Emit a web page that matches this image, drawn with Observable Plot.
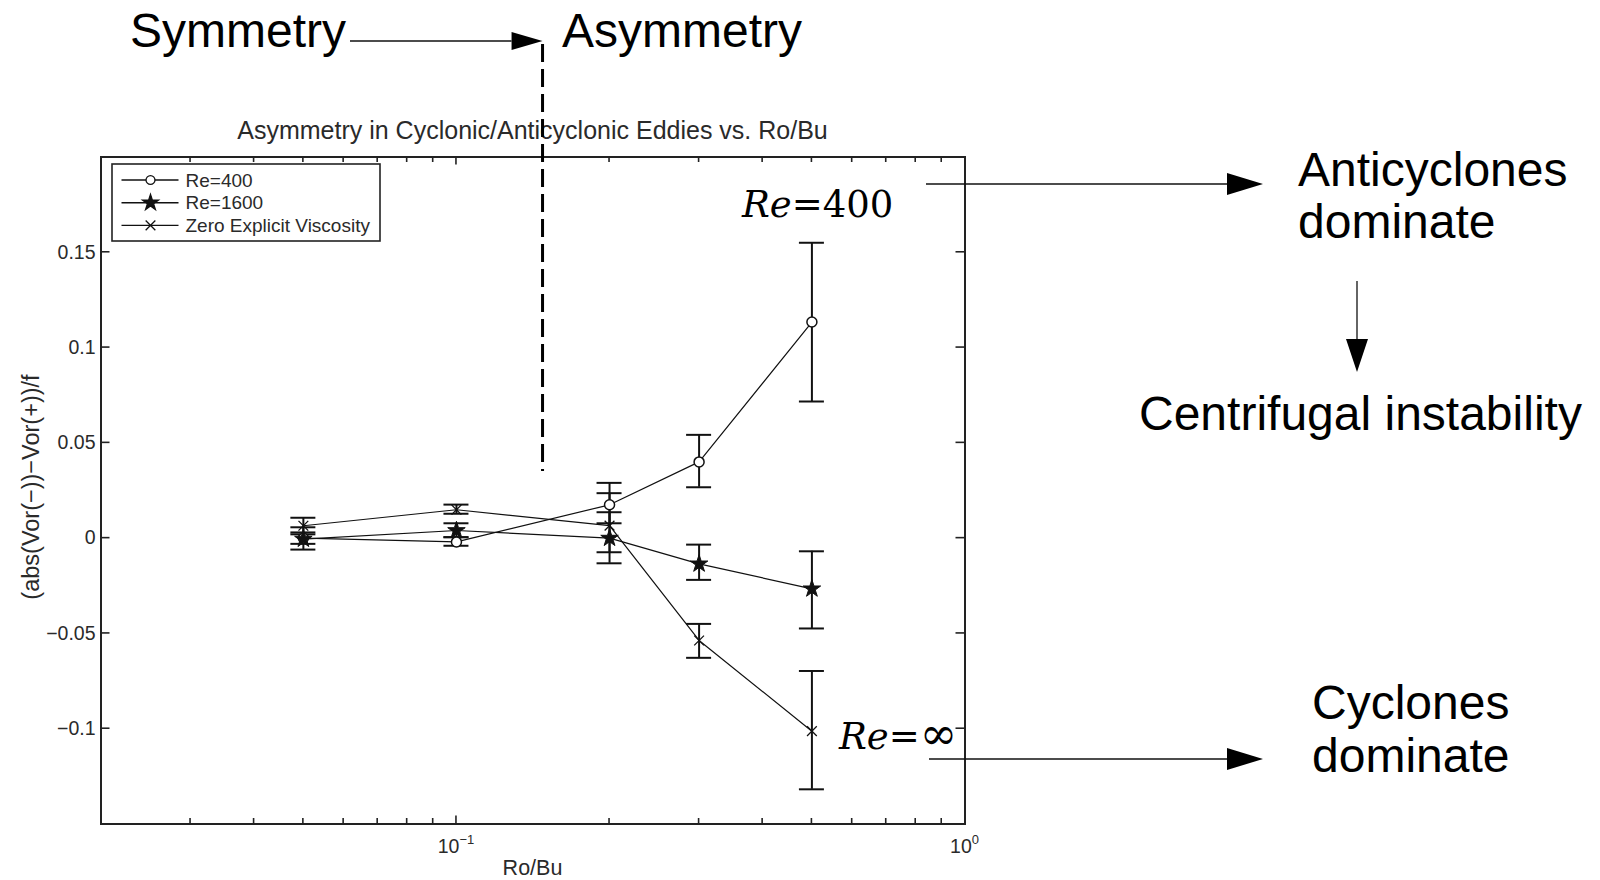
<!DOCTYPE html>
<html>
<head>
<meta charset="utf-8">
<script src="https://cdn.jsdelivr.net/npm/d3@7"></script>
<script src="https://cdn.jsdelivr.net/npm/@observablehq/plot@0.6"></script>
<style>
  html, body { margin: 0; padding: 0; background: #fff; }
  svg { display: block; }
</style>
</head>
<body>
<div id="chart"></div>
<script>
// Ro/Bu values of the runs
const roBu = [0.05, 0.1, 0.2, 0.3, 0.5];

// Series and their marker symbols
const seriesNames = ["Re=400", "Re=1600", "Zero Explicit Viscosity"];
const seriesSymbols = ["circle", "star", "times"];

// (abs(Vor(-)) - Vor(+))/f, with lower and upper error bounds
const re400   = [0.000, -0.002, 0.0175, 0.040, 0.1134];
const re400Lo = [-0.003, -0.004, 0.0078, 0.0267, 0.0717];
const re400Hi = [0.002, 0.0005, 0.029, 0.0542, 0.155];

const re1600   = [-0.0005, 0.004, 0.000, -0.0135, -0.0266];
const re1600Lo = [-0.006, 0.0005, -0.0132, -0.0219, -0.0474];
const re1600Hi = [0.0057, 0.0078, 0.0136, -0.0034, -0.0069];

const inviscid   = [0.0065, 0.0149, 0.0066, -0.0537, -0.1013];
const inviscidLo = [0.003, 0.0128, -0.0074, -0.0628, -0.1318];
const inviscidHi = [0.0107, 0.0176, 0.0236, -0.045, -0.0697];

// Axis ticks
const yTicks = [-0.1, -0.05, 0, 0.05, 0.1, 0.15];
const xMajorTicks = [0.1, 1];
const xMajorLabels = [["10", "−1"], ["10", "0"]];
const xMinorTicks = [0.03, 0.04, 0.05, 0.06, 0.07, 0.08, 0.09, 0.2, 0.3, 0.4, 0.5, 0.6, 0.7, 0.8, 0.9];

// Regime boundary between symmetric and asymmetric eddies
const regimeBoundary = 0.148;
const regimeBoundaryBottom = 0.035;

(function draw() {
const rows = [];
[[re400, re400Lo, re400Hi], [re1600, re1600Lo, re1600Hi], [inviscid, inviscidLo, inviscidHi]]
  .forEach(([v, lo, hi], s) => roBu.forEach((x, i) => rows.push({
    series: seriesNames[s], symbol: seriesSymbols[s], x, y: v[i], lo: lo[i], hi: hi[i]
  })));

const font = "'Liberation Sans', Arial, Helvetica, sans-serif";
const ink = "#111";
const capHalf = 12.5;

const plot = Plot.plot({
  width: 1600,
  height: 880,
  marginLeft: 100.5,
  marginRight: 635.5,
  marginTop: 156.5,
  marginBottom: 56.5,
  style: { fontFamily: font, background: "white", overflow: "visible", color: "#2a2a2a" },
  x: { type: "log", domain: [0.02, 1], axis: null },
  y: { domain: [-0.15, 0.2], axis: null },
  marks: [
    Plot.axisY(yTicks, {
      tickSize: 0, tickPadding: 5.5, fontSize: 19.5, label: null,
      tickFormat: d => d < 0 ? "−" + Math.abs(d) : String(d)
    }),
    Plot.line(rows, { x: "x", y: "y", z: "series", stroke: ink, strokeWidth: 1.2 }),
    Plot.ruleX(rows, { x: "x", y1: "lo", y2: "hi", stroke: ink, strokeWidth: 2 }),
    Plot.ruleY(rows, { y: "lo", x1: "x", x2: "x", insetLeft: -capHalf, insetRight: -capHalf, stroke: ink, strokeWidth: 2 }),
    Plot.ruleY(rows, { y: "hi", x1: "x", x2: "x", insetLeft: -capHalf, insetRight: -capHalf, stroke: ink, strokeWidth: 2 }),
    Plot.dot(rows.filter(d => d.symbol === "circle"), { x: "x", y: "y", symbol: "circle", r: 5, stroke: ink, strokeWidth: 1.5, fill: "white" }),
    Plot.dot(rows.filter(d => d.symbol === "star"), { x: "x", y: "y", symbol: "star", r: 5.5, fill: ink, stroke: ink, strokeWidth: 1 }),
    Plot.dot(rows.filter(d => d.symbol === "times"), { x: "x", y: "y", symbol: "times", r: 4.5, stroke: ink, strokeWidth: 1.3 }),
    Plot.frame({ stroke: "#222", strokeWidth: 2 })
  ]
});

document.getElementById("chart").appendChild(plot);

const svg = d3.select(plot);
const sx = plot.scale("x"), sy = plot.scale("y");
const X = v => sx.apply(v), Y = v => sy.apply(v);
const fLeft = X(0.02), fRight = X(1), fBottom = Y(-0.15), fTop = Y(0.2);

// Inward ticks on all four sides
const ticks = svg.append("g").attr("stroke", "#222").attr("stroke-width", 1.6);
xMinorTicks.concat(xMajorTicks.slice(0, 1)).forEach(v => {
  const len = xMajorTicks.includes(v) ? 8 : 5.5;
  ticks.append("line").attr("x1", X(v)).attr("x2", X(v)).attr("y1", fBottom).attr("y2", fBottom - len);
  ticks.append("line").attr("x1", X(v)).attr("x2", X(v)).attr("y1", fTop).attr("y2", fTop + len);
});
yTicks.forEach(v => {
  ticks.append("line").attr("x1", fLeft).attr("x2", fLeft + 9).attr("y1", Y(v)).attr("y2", Y(v));
  ticks.append("line").attr("x1", fRight).attr("x2", fRight - 9).attr("y1", Y(v)).attr("y2", Y(v));
});

// Log tick labels 10^n
xMajorTicks.forEach((v, i) => {
  const t = svg.append("text").attr("x", X(v)).attr("y", 853).attr("text-anchor", "middle")
    .attr("font-family", font).attr("font-size", 19.5).attr("fill", "#2a2a2a");
  t.append("tspan").text(xMajorLabels[i][0]);
  t.append("tspan").attr("dy", -9).attr("font-size", 13).text(xMajorLabels[i][1]);
});

// Axis labels and title
svg.append("text").attr("x", (fLeft + fRight) / 2).attr("y", 875).attr("text-anchor", "middle")
  .attr("font-family", font).attr("font-size", 21.5).attr("fill", "#2a2a2a").text("Ro/Bu");
svg.append("text").attr("transform", `translate(39,487) rotate(-90)`)
  .attr("text-anchor", "middle").attr("font-family", font).attr("font-size", 23.5).attr("fill", "#2a2a2a")
  .text("(abs(Vor(−))−Vor(+))/f");
svg.append("text").attr("x", (fLeft + fRight) / 2).attr("y", 139).attr("text-anchor", "middle")
  .attr("font-family", font).attr("font-size", 25).attr("fill", "#2a2a2a")
  .text("Asymmetry in Cyclonic/Anticyclonic Eddies vs. Ro/Bu");

// Legend
const lg = svg.append("g");
lg.append("rect").attr("x", fLeft + 11.5).attr("y", fTop + 7.5).attr("width", 268).attr("height", 77)
  .attr("fill", "white").attr("stroke", "#222").attr("stroke-width", 1.6);
const symbolOf = { circle: d3.symbolCircle, star: d3.symbolStar, times: d3.symbolTimes };
seriesNames.forEach((name, i) => {
  const yy = fTop + 23.5 + i * 22.7;
  lg.append("line").attr("x1", fLeft + 21).attr("x2", fLeft + 78).attr("y1", yy).attr("y2", yy)
    .attr("stroke", ink).attr("stroke-width", 1.4);
  const s = seriesSymbols[i];
  lg.append("path").attr("transform", `translate(${fLeft + 50},${yy})`)
    .attr("d", d3.symbol(symbolOf[s], Math.PI * (s === "star" ? 25 : 20))())
    .attr("fill", s === "star" ? ink : s === "circle" ? "white" : "none")
    .attr("stroke", ink).attr("stroke-width", 1.3);
  lg.append("text").attr("x", fLeft + 85).attr("y", yy).attr("dy", "0.35em").attr("text-anchor", "start")
    .attr("font-family", font).attr("font-size", 19).attr("fill", "#2a2a2a").text(name);
});

// Annotation arrows
const ann = svg.append("g").attr("text-anchor", "start");
function arrow(x1, y1, x2, y2, head, half) {
  const a = Math.atan2(y2 - y1, x2 - x1), c = Math.cos(a), s = Math.sin(a);
  const hx = x2 - head * c, hy = y2 - head * s;
  ann.append("line").attr("x1", x1).attr("y1", y1).attr("x2", hx).attr("y2", hy)
    .attr("stroke", "#111").attr("stroke-width", 1.3);
  ann.append("path").attr("d", `M${x2},${y2}L${hx - half * s},${hy + half * c}L${hx + half * s},${hy - half * c}Z`)
    .attr("fill", "#000");
}
const bx = X(regimeBoundary);
arrow(350, 41, bx, 41, 31, 9);
arrow(926, 184, 1263, 184, 36, 11);
arrow(1357, 281, 1357, 372, 33, 11);
arrow(929, 759, 1263, 759, 36, 11);

// Symmetry / asymmetry boundary
ann.append("line").attr("x1", bx).attr("x2", bx).attr("y1", 44).attr("y2", Y(regimeBoundaryBottom))
  .attr("stroke", "#000").attr("stroke-width", 3).attr("stroke-dasharray", "18 7");

const big = (x, y, str) => ann.append("text").attr("x", x).attr("y", y).attr("text-anchor", "start")
  .attr("font-family", font).attr("font-size", 48).attr("fill", "#000").text(str);
big(130, 47, "Symmetry");
big(562, 47, "Asymmetry");
big(1298, 186, "Anticyclones");
big(1298, 238, "dominate");
big(1139, 430, "Centrifugal instability");
big(1312, 719, "Cyclones");
big(1312, 772, "dominate");

const math = (x, y, rest, restSize) => {
  const t = ann.append("text").attr("x", x).attr("y", y).attr("text-anchor", "start")
    .attr("font-family", "'DejaVu Serif', serif").attr("font-size", 37).attr("fill", "#000");
  t.append("tspan").attr("font-style", "italic").text("Re");
  t.append("tspan").text(rest[0]);
  t.append("tspan").attr("font-size", restSize).attr("font-weight", 300).text(rest.slice(1));
};
math(742, 217, "=400", 37);
math(839, 749, "=∞", 45);
})();
</script>
</body>
</html>
